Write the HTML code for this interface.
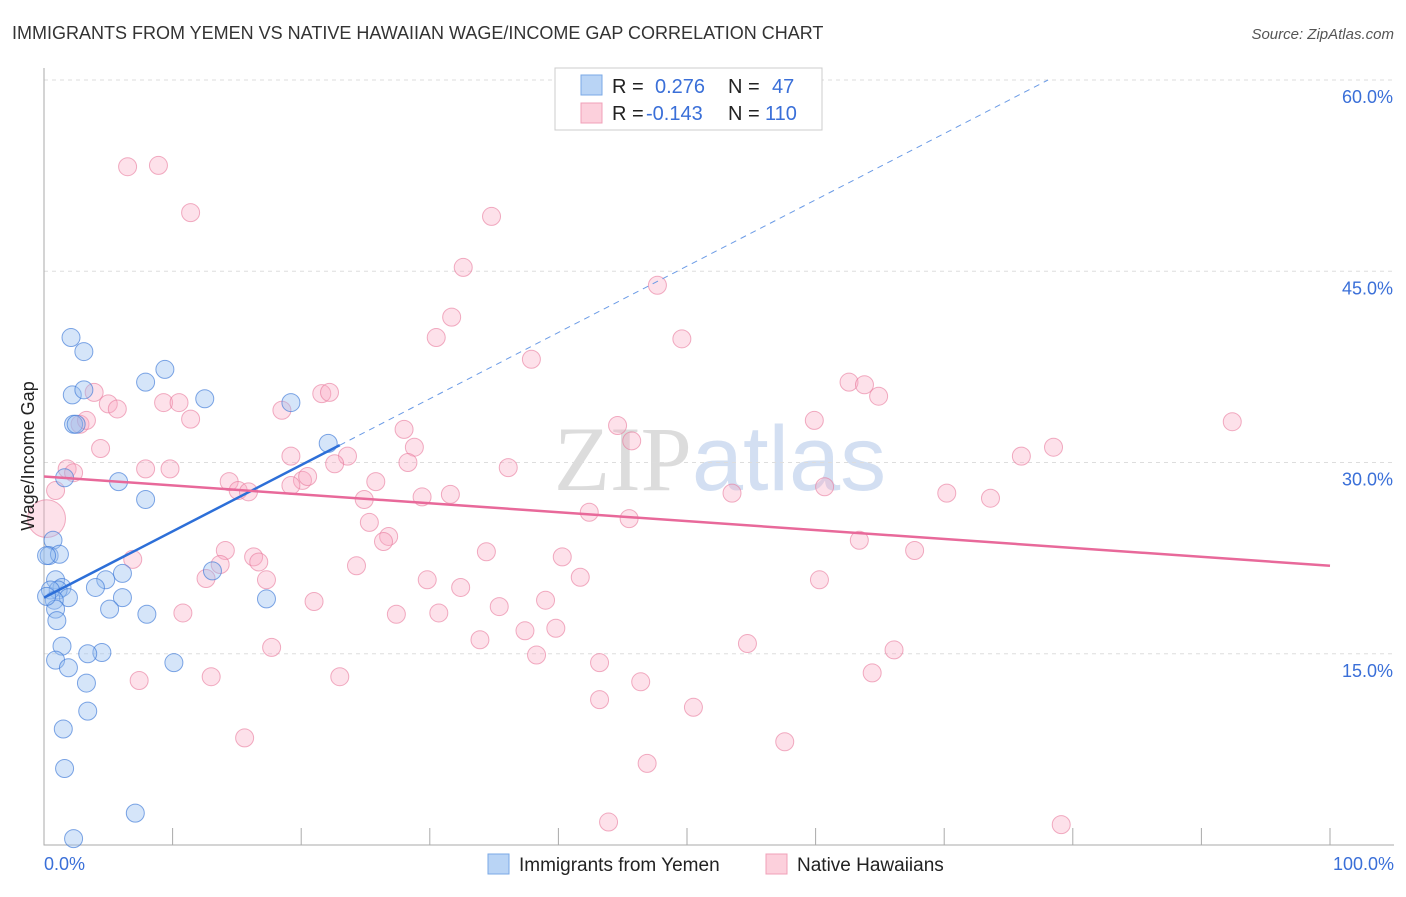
<!DOCTYPE html>
<html><head><meta charset="utf-8"><style>
body{margin:0;background:#fff;font-family:"Liberation Sans",sans-serif;}
svg text{font-family:"Liberation Sans",sans-serif;}
</style></head><body>
<svg id="chart" width="1406" height="892" xmlns="http://www.w3.org/2000/svg">
<text x="12" y="39" font-size="18" fill="#333">IMMIGRANTS FROM YEMEN VS NATIVE HAWAIIAN WAGE/INCOME GAP CORRELATION CHART</text>
<text x="1394" y="39" font-size="15" fill="#555" text-anchor="end" font-style="italic">Source: ZipAtlas.com</text>
<text x="720" y="490" font-size="92" text-anchor="middle" fill="#ddd" opacity="0.8"><tspan font-family="Liberation Serif" fill="#d4d4d4">ZIP</tspan><tspan fill="#c9d8ef">atlas</tspan></text>
<g id="grid"></g>
<g id="axes"></g>
<g id="pts"></g>
<g id="lines"></g>
<text transform="translate(34,456) rotate(-90)" font-size="18" fill="#222" text-anchor="middle">Wage/Income Gap</text>
<g>
<rect x="555" y="68" width="267" height="62" fill="#fff" stroke="#ccc"/>
<rect x="581" y="75" width="21" height="20" fill="#b9d4f5" stroke="#7aa8e6"/>
<rect x="581" y="103" width="21" height="20" fill="#fcd0dc" stroke="#f0a0b8"/>
<text x="612" y="93" font-size="20" fill="#222">R =</text>
<text x="655" y="93" font-size="20" fill="#3a6fd8">0.276</text>
<text x="728" y="93" font-size="20" fill="#222">N =</text>
<text x="772" y="93" font-size="20" fill="#3a6fd8">47</text>
<text x="612" y="120" font-size="20" fill="#222">R =</text>
<text x="646" y="120" font-size="20" fill="#3a6fd8">-0.143</text>
<text x="728" y="120" font-size="20" fill="#222">N =</text>
<text x="765" y="120" font-size="20" fill="#3a6fd8">110</text>
</g>
<g>
<rect x="488" y="854" width="21" height="20" fill="#b9d4f5" stroke="#7aa8e6"/>
<text x="519" y="871" font-size="19" fill="#222">Immigrants from Yemen</text>
<rect x="766" y="854" width="21" height="20" fill="#fcd0dc" stroke="#f0a0b8"/>
<text x="797" y="871" font-size="19" fill="#222">Native Hawaiians</text>
</g>
</svg>
<script>
const yTicks=[15,30,45,60];
const yTickLabels=["15.0%","30.0%","45.0%","60.0%"];
const xTickLabels=["0.0%","100.0%"];
const blueX=[2.1,3.1,2.2,3.1,7.9,9.4,12.5,19.2,2.3,2.5,22.1,1.6,5.8,7.9,0.7,0.4,1.2,0.2,6.1,4.8,0.9,4.0,1.4,1.1,0.5,13.1,6.1,1.9,0.8,5.1,0.9,8.0,17.3,1.0,1.4,4.5,3.4,0.9,1.9,10.1,3.3,3.4,1.5,1.6,7.1,2.3,0.2];
const blueY=[39.8,38.7,35.3,35.7,36.3,37.3,35.0,34.7,33.0,33.0,31.5,28.8,28.5,27.1,23.9,22.7,22.8,22.7,21.3,20.8,20.8,20.2,20.2,20.0,20.0,21.5,19.4,19.4,19.2,18.5,18.5,18.1,19.3,17.6,15.6,15.1,15.0,14.5,13.9,14.3,12.7,10.5,9.1,6.0,2.5,0.5,19.5];
const pinkX=[6.5,8.9,11.4,34.8,32.6,47.7,31.7,30.5,49.6,37.9,62.6,63.8,64.9,21.6,3.9,5.0,9.3,10.5,5.7,18.5,59.9,92.4,28.0,44.6,2.8,3.3,4.4,45.7,78.5,76.0,19.2,28.8,23.6,1.8,2.3,7.9,9.8,22.6,28.3,36.1,0.9,14.4,15.1,15.9,20.1,19.2,25.8,20.5,53.5,60.7,70.2,73.6,24.9,29.4,31.6,42.4,45.5,25.3,26.8,26.4,63.4,67.7,14.1,34.4,40.3,16.3,16.7,6.9,13.7,24.3,12.6,17.3,29.8,41.7,60.3,32.4,39.0,35.4,21.0,10.8,27.4,30.7,37.4,39.8,33.9,17.7,54.7,66.1,38.3,43.2,7.4,13.0,23.0,46.4,64.4,43.2,50.5,15.6,57.6,46.9,43.9,79.1,52.1,22.2,11.4,0.2];
const pinkY=[53.2,53.3,49.6,49.3,45.3,43.9,41.4,39.8,39.7,38.1,36.3,36.1,35.2,35.4,35.5,34.6,34.7,34.7,34.2,34.1,33.3,33.2,32.6,32.9,33.0,33.3,31.1,31.7,31.2,30.5,30.5,31.2,30.5,29.5,29.2,29.5,29.5,29.9,30.0,29.6,27.8,28.5,27.8,27.7,28.6,28.2,28.5,28.9,27.6,28.1,27.6,27.2,27.1,27.3,27.5,26.1,25.6,25.3,24.2,23.8,23.9,23.1,23.1,23.0,22.6,22.6,22.2,22.4,22.0,21.9,20.9,20.8,20.8,21.0,20.8,20.2,19.2,18.7,19.1,18.2,18.1,18.2,16.8,17.0,16.1,15.5,15.8,15.3,14.9,14.3,12.9,13.2,13.2,12.8,13.5,11.4,10.8,8.4,8.1,6.4,1.8,1.6,60.0,35.5,33.4,25.6];
const pinkSize=[];pinkX.forEach((_,i)=>pinkSize.push(i===pinkX.length-1?2.1:1));
const blueTrend=[19.4,0.52];   // intercept, slope
const pinkTrend=[28.9,-0.07];
const blueSolidEnd=23;

const X0=44,X1=1330,YB=845,PXY=12.75;
const sx=v=>X0+v*(X1-X0)/100;
const sy=v=>YB-v*PXY;
const NS="http://www.w3.org/2000/svg";
function mk(tag,parent,attrs){const e=document.createElementNS(NS,tag);for(const k in attrs)e.setAttribute(k,attrs[k]);parent.appendChild(e);return e;}
const grid=document.getElementById('grid'),axes=document.getElementById('axes'),pts=document.getElementById('pts'),lines=document.getElementById('lines');
yTicks.forEach((t,i)=>{
 const g=mk('line',grid,{x1:X0,x2:1394,y1:sy(t),y2:sy(t),stroke:'#ddd','stroke-dasharray':'4,4'});
 
 
 const l=mk('text',grid,{x:1393,y:sy(t)+23,'font-size':18,fill:'#3a6fd8','text-anchor':'end'});
 l.textContent=yTickLabels[i];
 
 
});
const ax=mk('path',axes,{d:`M${X0},68 V${YB} H1394`,stroke:'#aaa',fill:'none'});


for(let i=1;i<=10;i++){
 const t=mk('line',axes,{x1:sx(i*10),x2:sx(i*10),y1:828,y2:YB,stroke:'#aaa'});
 
 
}
[[0,'start',44],[100,'end',1394]].forEach((d,i)=>{
 const l=mk('text',axes,{x:d[2],y:870,'font-size':18,fill:'#3a6fd8','text-anchor':d[1]});
 l.textContent=xTickLabels[i];
 
 
});
pinkX.forEach((x,i)=>{
 const c=mk('circle',pts,{cx:sx(x),cy:sy(pinkY[i]),r:9*pinkSize[i],fill:'rgba(248,170,195,0.35)',stroke:'rgba(232,120,155,0.6)','stroke-width':1});
 
 
});
blueX.forEach((x,i)=>{
 const c=mk('circle',pts,{cx:sx(x),cy:sy(blueY[i]),r:9,fill:'rgba(150,190,240,0.4)',stroke:'rgba(60,120,215,0.65)','stroke-width':1});
 
 
});
const bEndDash=(60-blueTrend[0])/blueTrend[1];
const bl=mk('line',lines,{x1:sx(0),y1:sy(blueTrend[0]),x2:sx(blueSolidEnd),y2:sy(blueTrend[0]+blueTrend[1]*blueSolidEnd),stroke:'#2d6fd8','stroke-width':2.5});


const bd=mk('line',lines,{x1:sx(blueSolidEnd),y1:sy(blueTrend[0]+blueTrend[1]*blueSolidEnd),x2:sx(bEndDash),y2:sy(60),stroke:'#6b9be6','stroke-width':1,'stroke-dasharray':'6,5'});


const pl=mk('line',lines,{x1:sx(0),y1:sy(pinkTrend[0]),x2:sx(100),y2:sy(pinkTrend[0]+pinkTrend[1]*100),stroke:'#e8699a','stroke-width':2.5});


</script>
</body></html>
